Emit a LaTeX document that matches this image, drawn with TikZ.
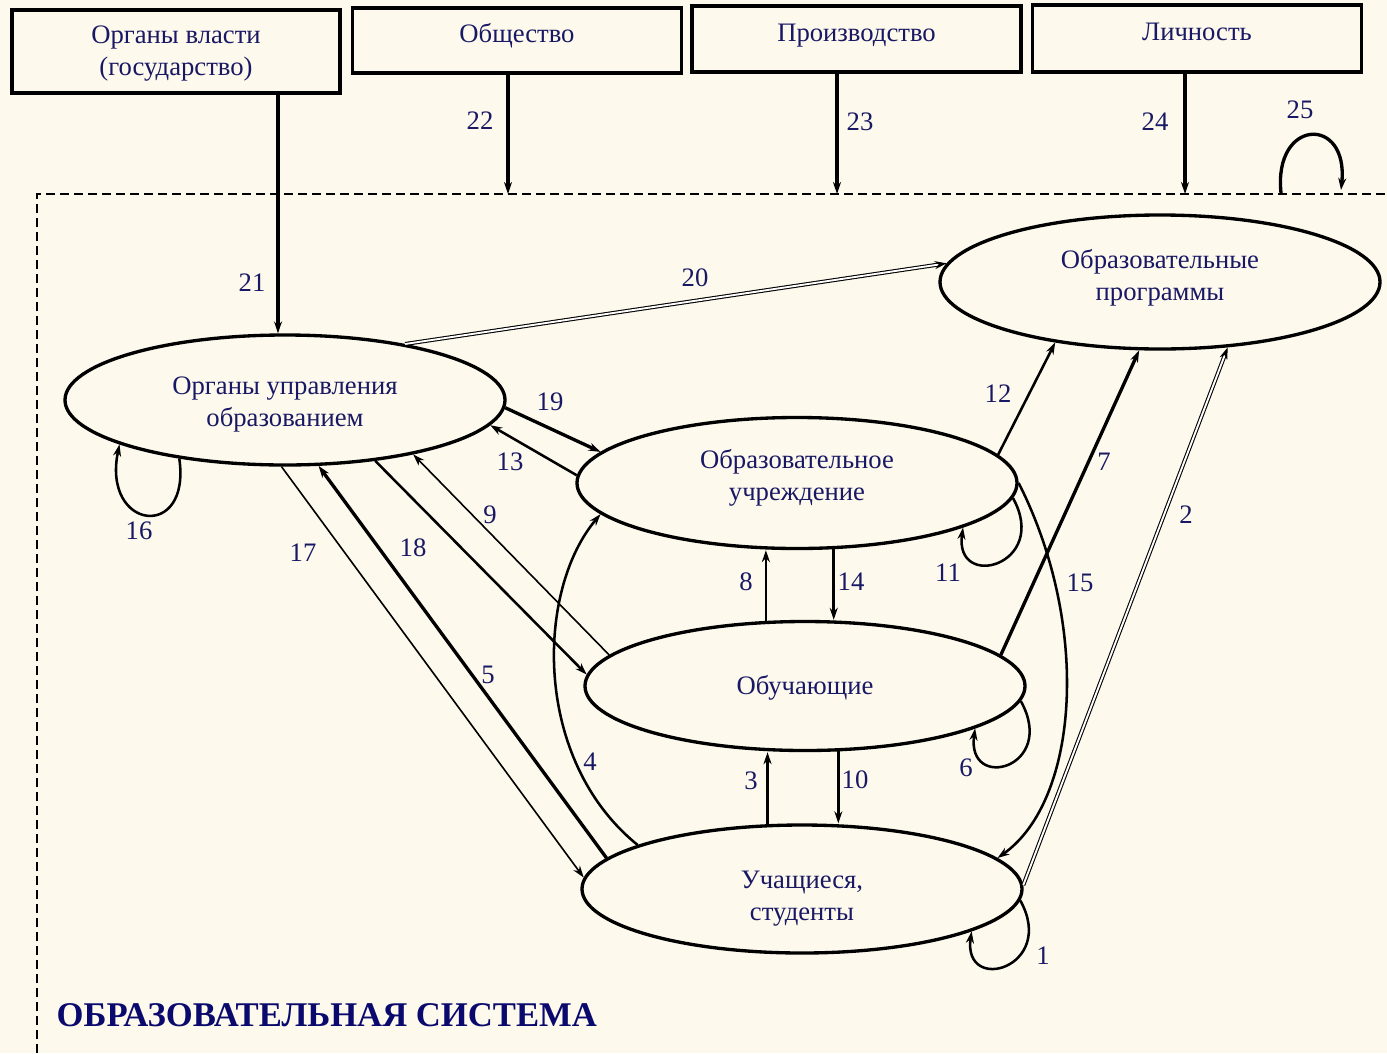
\documentclass[tikz,border=0pt]{standalone}
\usepackage{fontspec}
\setmainfont{Liberation Serif}
\usetikzlibrary{shapes.geometric,arrows.meta,calc}
\definecolor{bgc}{RGB}{253,249,236}
\definecolor{txt}{RGB}{24,24,100}
\definecolor{ttl}{RGB}{10,10,110}
\begin{document}
\begin{tikzpicture}[x=0.75pt,y=-0.75pt,
  every node/.style={font=\fontsize{20}{24}\selectfont, text=txt},
  topbox/.style={draw=black, line width=2.7pt, inner sep=0pt, align=center},
  onebox/.style={topbox, minimum width=247pt, text height=13pt, text depth=10pt},
  oval/.style={ellipse, draw=black, line width=2.5pt, minimum width=330pt, inner sep=0pt},
  ovaltext/.style={align=center, inner sep=0pt},
  num/.style={inner sep=1pt},
  tip/.style={-{Stealth[length=9pt,width=6pt]}},
  heavy/.style={tip, line width=2.5pt},
  mid/.style={tip, line width=1.9pt},
  light/.style={tip, line width=1.2pt},
  twin/.style={tip, double, double distance=1.4pt, line width=0.8pt},
  frame/.style={dash pattern=on 6.75pt off 3.75pt, line width=1.6pt}
]
\fill[bgc] (0,0) rectangle (1387,1053);
\useasboundingbox (0,0) rectangle (1387,1053);

% frame
\coordinate (fbl) at (37,1053);
\coordinate (ftr) at (1387,194);
\draw[frame] (fbl) |- (ftr);

% top boxes
\node[topbox, minimum width=246pt, minimum height=62.25pt] (gov) at (176,51.5) {};
\node[align=center, inner sep=0pt] (govt) at ($(gov)+(0,2)$) {Органы власти\\(государство)};
\node[onebox, minimum height=48.75pt] (soc) at (517,40.5) {Общество};
\node[onebox, minimum height=49.5pt] (prod) at (856.5,39) {Производство};
\node[onebox, minimum height=50.25pt] (pers) at (1197,38.5) {Личность};

% ellipses
\node[oval, minimum height=97.5pt] (A) at (285,400) {};
\node[oval, minimum height=100.5pt] (B) at (1160,282) {};
\node[oval, minimum height=98.25pt] (C) at (797,483) {};
\node[oval, minimum height=96.75pt] (D) at (805,686) {};
\node[oval, minimum height=96pt] (E) at (802,889) {};
\node[ovaltext] (At) at ($(A)+(0,5)$) {Органы управления\\образованием};
\node[ovaltext] (Bt) at ($(B)+(0,-4)$) {Образовательные\\программы};
\node[ovaltext] (Ct) at ($(C)+(0,-5)$) {Образовательное\\учреждение};
\node[ovaltext] (Dt) at ($(D)+(0,2)$) {Обучающие};
\node[ovaltext] (Et) at ($(E)+(0,10)$) {Учащиеся,\\студенты};

% title
\node[anchor=west, font=\fontsize{26}{30}\selectfont\bfseries, text=ttl] (title) at (52,1015) {ОБРАЗОВАТЕЛЬНАЯ СИСТЕМА};

% inputs from top boxes
\draw[heavy] (A.96 |- gov.south) -- (A.96);
\coordinate (s22) at ($(soc.south)+(-9,0)$);
\coordinate (s23) at ($(prod.south)+(-19.5,0)$);
\coordinate (s24) at ($(pers.south)+(-12,0)$);
\draw[heavy] (s22) -- (s22 |- ftr);
\draw[heavy] (s23) -- (s23 |- ftr);
\draw[heavy] (s24) -- (s24 |- ftr);
\coordinate (l25a) at (1281,193);
\coordinate (l25b) at (1341,190);
\draw[heavy] (l25a) .. controls +(-8,-75) and +(8,-75) .. (l25b);

% connectors
\draw[twin] (A.25) -- (B.175);
\draw[heavy] (A.-2) -- (C.171);
\draw[mid] (C.178) -- (A.-7);
\draw[mid] (A.-151) .. controls +(12,83) and +(-18,86) .. (A.-165);
\draw[light] (A.-93) -- (E.177);
\draw[heavy] (E.171) -- (A.-63);
\draw[mid] (A.-34) -- (D.177);
\draw[light] (D.171) -- (A.-23);
\draw[mid] (E.165) .. controls +(-105,-85) and +(-65,77) .. (C.-171);
\draw[mid] (D.121) -- (D.121 |- C.south);
\draw[heavy] (C.-61) -- (C.-61 |- D.north);
\draw[mid] (E.118) -- (E.118 |- D.south);
\draw[heavy] (D.-63) -- (D.-63 |- E.north);
\draw[mid] (C.-4) .. controls +(37,67) and +(-9,64) .. (C.-15);
\draw[mid] (D.-4.5) .. controls +(37,67) and +(-9,64) .. (D.-14);
\draw[mid] (E.-3) .. controls +(37,67) and +(-9,64) .. (E.-14);
\draw[mid] (C.8) -- (B.-150);
\draw[heavy] (D.9) -- (B.-107);
\draw[twin] (E.1) -- (B.-44);
\draw[mid] (C.0) .. controls +(72,142) and +(82,-58) .. (E.9);

% labels
\node[num] (n1) at (1043,956) {1};
\node[num] (n2) at (1186,515) {2};
\node[num] (n3) at (751,781) {3};
\node[num] (n4) at (590,762) {4};
\node[num] (n5) at (488,675) {5};
\node[num] (n6) at (966,768) {6};
\node[num] (n7) at (1104,462) {7};
\node[num] (n8) at (746,582) {8};
\node[num] (n9) at (490,515) {9};
\node[num] (n10) at (855,780) {10};
\node[num] (n11) at (948,573) {11};
\node[num] (n12) at (998,394) {12};
\node[num] (n13) at (510,462) {13};
\node[num] (n14) at (851,582) {14};
\node[num] (n15) at (1080,583) {15};
\node[num] (n16) at (139,531) {16};
\node[num] (n17) at (303,553) {17};
\node[num] (n18) at (413,548) {18};
\node[num] (n19) at (550,402) {19};
\node[num] (n20) at (695,278) {20};
\node[num] (n21) at (252,283) {21};
\node[num] (n22) at (480,121) {22};
\node[num] (n23) at (860,122) {23};
\node[num] (n24) at (1155,122) {24};
\node[num] (n25) at (1300,110) {25};
\end{tikzpicture}
\end{document}
